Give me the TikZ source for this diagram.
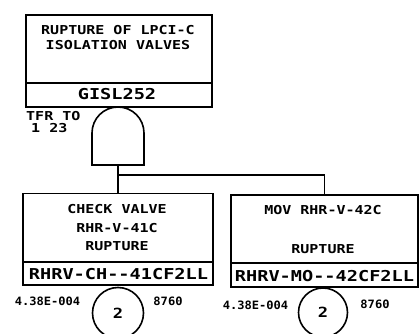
\documentclass[tikz,border=0pt]{standalone}
\usepackage{fontspec}
\newfontfamily\lblfont{DejaVu Sans Mono}[FakeStretch=1.22]
\newfontfamily\idfont{DejaVu Sans Mono}[FakeStretch=1.24]
\newfontfamily\numfont{DejaVu Sans Mono}[FakeStretch=1.05]
\begin{document}
\begin{tikzpicture}[x=1pt,y=-1pt,
  box/.style={draw,line width=1.6pt,inner sep=0pt,rectangle},
  wire/.style={line width=1.6pt},
  lbl/.style={inner sep=0pt,align=center,font=\lblfont\bfseries\fontsize{12.3}{15}\selectfont},
  idt/.style={inner sep=0pt,font=\idfont\bfseries\fontsize{15}{17}\selectfont},
  num/.style={inner sep=0pt,font=\numfont\bfseries\fontsize{11.5}{13}\selectfont},
  circ/.style={draw,line width=1.6pt,circle,minimum size=51pt,inner sep=0pt,font=\lblfont\bfseries\fontsize{14}{16}\selectfont}]
\useasboundingbox (0,0) rectangle (420,334);
\fill[white] (0,0) rectangle (420,334);
% top event
\node[box,minimum width=186pt,minimum height=68pt] (top) at (119,49) {};
\node[box,minimum width=186pt,minimum height=24pt] (topid) at (119,95) {};
\node[lbl] (t1) at (118,30.5) {RUPTURE OF LPCI-C};
\node[lbl] (t2) at (118,45.5) {ISOLATION VALVES};
\node[idt] (t3) at (117,94) {GISL252};
\node[lbl,anchor=west] (tfr) at (26,116) {TFR TO};
\node[lbl,anchor=west] (tfr2) at (31,128.5) {1 23};
% AND gate
\coordinate (gin) at (118,107);
\coordinate (gout) at (118,165);
\draw[wire] (92,165) -- (92,133) arc[start angle=180,end angle=360,radius=26] -- (144,165) -- cycle;
% left child
\node[box,minimum width=190pt,minimum height=69pt] (lbox) at (118,228) {};
\node[box,minimum width=190pt,minimum height=23pt] (lid) at (118,273.5) {};
\node[lbl] (l1) at (117,209.5) {CHECK VALVE};
\node[lbl] (l2) at (117,228) {RHR-V-41C};
\node[lbl] (l3) at (117,246) {RUPTURE};
\node[idt] (l4) at (118.5,274) {RHRV-CH--41CF2LL};
\node[circ] (lc) at (118,313) {2};
\node[num] (lp) at (47.5,301.5) {4.38E-004};
\node[num] (lt) at (168,301.5) {8760};
% right child
\node[box,minimum width=187pt,minimum height=68pt] (rbox) at (324.5,229) {};
\node[box,minimum width=187pt,minimum height=24pt] (rid) at (324.5,275) {};
\node[lbl] (r1) at (323,210) {MOV RHR-V-42C};
\node[lbl] (r3) at (323,249) {RUPTURE};
\node[idt] (r4) at (324.5,276) {RHRV-MO--42CF2LL};
\node[circ,minimum size=49pt] (rc) at (323,312.5) {2};
\node[num] (rp) at (255.5,305) {4.38E-004};
\node[num] (rt) at (375,304) {8760};
% connectors
\coordinate (j) at (118,175);
\draw[wire] (gout) -- (lbox.north);
\draw[wire] (j) -- (j -| rbox.north) -- (rbox.north);
\end{tikzpicture}
\end{document}
